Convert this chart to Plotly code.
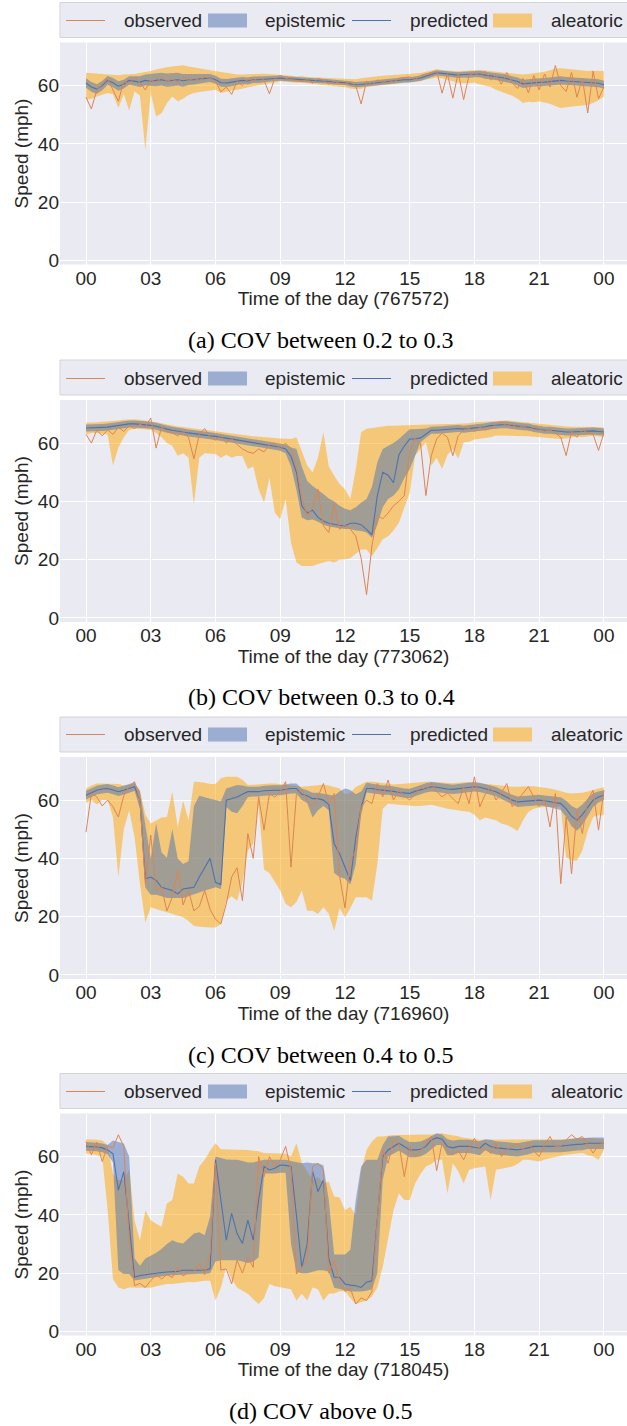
import plotly.graph_objects as go

# ---------------- data (15-minute resolution, hours 0..24) ----------------
hours = [i * 0.25 for i in range(97)]
tick_vals = [0, 3, 6, 9, 12, 15, 18, 21, 24]
tick_text = ["00", "03", "06", "09", "12", "15", "18", "21", "00"]
y_ticks = [0, 20, 40, 60]

sensor_ids = ["767572", "773062", "716960", "718045"]
captions = ["(a) COV between 0.2 to 0.3", "(b) COV between 0.3 to 0.4",
            "(c) COV between 0.4 to 0.5", "(d) COV above 0.5"]

# ---- panel (a) 767572
a_pred = [60.9, 59.5, 58.8, 60.0, 61.8, 61.0, 59.8, 60.5, 61.8, 61.5, 61.2, 61.8,
          61.5, 61.8, 62.0, 61.6, 61.8, 62.0, 61.7, 62.0, 62.0, 62.3, 62.5, 62.6,
          62.0, 61.0, 60.9, 61.2, 61.5, 61.8, 61.6, 62.0, 62.0, 62.2, 62.4, 62.5,
          62.6, 62.4, 62.3, 62.0, 62.0, 61.8, 61.7, 61.6, 61.5, 61.4, 61.2, 61.1,
          61.0, 60.6, 60.3, 60.4, 60.6, 60.8, 61.0, 61.2, 61.5, 61.7, 61.9, 62.0,
          62.0, 62.3, 62.6, 63.2, 63.8, 64.4, 64.2, 64.0, 63.8, 63.6, 63.8, 63.8,
          64.0, 64.0, 63.6, 63.4, 63.2, 62.8, 62.4, 62.0, 61.4, 60.6, 60.8, 61.1,
          61.1, 61.2, 61.4, 61.6, 61.8, 61.6, 61.5, 61.4, 61.3, 61.1, 61.0, 60.8,
          60.3]
a_epi_hi = [62.5, 61.2, 60.5, 61.6, 63.3, 62.6, 61.5, 62.0, 63.2, 63.2, 63.2, 63.8,
            64.0, 64.3, 64.4, 64.2, 64.4, 64.4, 64.0, 64.0, 63.8, 63.8, 63.9, 64.0,
            63.4, 62.4, 62.3, 62.6, 62.8, 63.0, 62.8, 63.1, 63.1, 63.2, 63.4, 63.4,
            63.5, 63.2, 63.1, 62.8, 62.8, 62.6, 62.5, 62.4, 62.3, 62.2, 62.0, 61.9,
            61.8, 61.5, 61.2, 61.3, 61.5, 61.7, 61.9, 62.1, 62.4, 62.6, 62.8, 62.9,
            62.9, 63.2, 63.5, 64.1, 64.8, 65.3, 65.1, 64.9, 64.8, 64.6, 64.8, 64.9,
            65.1, 65.1, 64.8, 64.6, 64.5, 64.1, 63.7, 63.3, 62.8, 62.0, 62.2, 62.5,
            62.5, 62.6, 62.8, 63.0, 63.2, 63.0, 62.9, 62.8, 62.7, 62.5, 62.4, 62.2,
            61.7]
a_epi_lo = [59.3, 57.9, 57.2, 58.4, 60.3, 59.4, 58.2, 59.0, 60.4, 60.0, 59.5, 60.0,
            59.8, 59.8, 60.0, 59.6, 59.8, 60.0, 59.6, 60.2, 60.4, 60.8, 61.0, 61.2,
            60.6, 59.6, 59.5, 59.8, 60.2, 60.6, 60.4, 60.9, 60.9, 61.2, 61.4, 61.6,
            61.7, 61.6, 61.5, 61.2, 61.2, 61.0, 60.9, 60.8, 60.7, 60.6, 60.4, 60.3,
            60.2, 59.7, 59.4, 59.5, 59.7, 59.9, 60.1, 60.3, 60.6, 60.8, 61.0, 61.1,
            61.1, 61.4, 61.7, 62.3, 62.8, 63.5, 63.3, 63.1, 62.8, 62.6, 62.8, 62.7,
            62.9, 62.9, 62.4, 62.2, 61.9, 61.5, 61.1, 60.7, 60.0, 59.2, 59.4, 59.7,
            59.7, 59.8, 60.0, 60.2, 60.4, 60.2, 60.1, 60.0, 59.9, 59.7, 59.6, 59.4,
            58.9]
a_ale_hi = [64.4, 64.3, 64.1, 63.9, 63.8, 63.8, 63.6, 63.8, 63.8, 64.0, 64.3, 64.6,
            65.0, 65.5, 66.0, 66.3, 66.6, 66.8, 67.0, 66.6, 66.2, 66.0, 65.6, 65.3,
            65.0, 64.6, 64.3, 64.0, 63.8, 63.8, 63.9, 64.0, 64.0, 64.1, 64.0, 63.9,
            63.8, 63.6, 63.4, 63.1, 63.2, 63.0, 62.9, 62.8, 62.7, 62.6, 62.5, 62.4,
            62.3, 62.2, 62.2, 62.5, 62.8, 63.0, 63.2, 63.4, 63.5, 63.6, 63.7, 63.8,
            63.9, 64.1, 64.3, 64.8, 65.2, 65.6, 65.4, 65.1, 65.0, 64.9, 65.0, 65.2,
            65.3, 65.4, 65.2, 65.0, 64.8, 64.5, 64.3, 64.1, 63.8, 63.8, 64.0, 64.2,
            64.4, 64.8, 65.3, 65.8, 66.0, 65.8, 65.5, 65.3, 65.1, 65.0, 65.1, 65.0,
            65.0]
a_ale_lo = [55.2, 55.5, 56.3, 56.8, 57.5, 57.0, 52.3, 57.0, 51.5, 58.0, 56.5, 37.9,
            57.5, 49.4, 50.5, 54.0, 56.3, 54.6, 55.5, 56.8, 57.5, 57.8, 58.0, 58.2,
            58.6, 57.5, 58.0, 58.3, 58.6, 59.0, 59.5, 59.8, 60.3, 60.5, 60.8, 61.0,
            61.5, 61.3, 61.2, 61.0, 61.0, 60.8, 60.6, 60.4, 60.3, 60.0, 59.8, 59.6,
            59.4, 59.0, 58.8, 58.9, 59.5, 59.8, 60.0, 60.2, 60.4, 60.5, 60.7, 61.0,
            61.0, 61.2, 61.5, 62.0, 62.3, 62.8, 62.5, 62.0, 61.3, 61.0, 60.8, 60.8,
            61.0, 60.5, 60.0, 59.5, 58.6, 58.0, 57.2, 56.5, 55.5, 54.0, 54.5, 54.3,
            54.6, 54.2, 53.8, 53.0, 52.3, 52.6, 52.9, 53.0, 53.2, 53.4, 54.0, 55.0,
            56.3]
a_obs = [56.0, 52.0, 58.5, 60.5, 62.5, 58.5, 54.6, 61.5, 60.5, 62.8, 61.0, 58.5,
         62.0, 61.0, 62.8, 61.5, 62.3, 61.0, 63.0, 61.8, 62.5, 61.8, 63.0, 62.5,
         61.5, 57.9, 59.5, 57.0, 61.5, 60.0, 62.5, 61.5, 63.0, 61.8, 57.2, 62.5,
         63.5, 62.5, 62.0, 61.8, 61.5, 62.0, 60.8, 62.5, 61.8, 60.5, 61.5, 60.8,
         60.5, 61.2, 60.0, 53.7, 61.5, 60.2, 62.0, 61.0, 62.0, 61.0, 62.5, 62.8,
         63.0, 62.0, 63.5, 64.0, 64.5, 65.0, 57.4, 64.0, 55.7, 64.5, 55.2, 63.5,
         64.5, 63.0, 65.0, 62.0, 63.5, 60.5, 64.5, 61.0, 59.0, 62.5, 57.5, 63.5,
         58.5, 64.0, 59.5, 66.9, 60.0, 58.0, 64.5, 56.0, 62.5, 50.6, 65.0, 55.5,
         59.5]

# ---- panel (b) 773062
b_pred = [65.2, 65.2, 65.3, 65.4, 65.5, 65.8, 66.1, 66.4, 66.6, 66.6, 66.5, 66.3,
          66.1, 65.8, 65.2, 64.8, 64.4, 64.0, 63.8, 63.5, 63.2, 63.0, 62.7, 62.5,
          62.3, 62.0, 61.5, 61.2, 60.9, 60.6, 60.3, 60.0, 59.8, 59.6, 59.2, 58.9,
          58.6, 58.0, 55.5, 50.0, 38.5, 36.0, 37.0, 34.5, 33.3, 32.5, 32.1, 31.8,
          31.6, 32.5, 32.5, 32.0, 30.4, 28.5, 42.0, 50.0, 49.0, 46.4, 56.0, 59.0,
          61.4, 61.4, 61.8, 63.0, 64.4, 64.4, 64.6, 64.8, 65.0, 65.0, 64.8, 65.0,
          65.2, 65.2, 65.6, 66.0, 66.2, 66.3, 66.3, 66.0, 65.8, 65.6, 65.5, 65.0,
          64.8, 64.4, 64.4, 64.2, 63.9, 63.8, 63.8, 63.9, 64.0, 64.2, 64.2, 64.0,
          63.8]
b_epi_hi = [66.4, 66.4, 66.5, 66.6, 66.7, 67.0, 67.3, 67.6, 67.8, 67.8, 67.7, 67.5,
            67.3, 67.0, 66.4, 66.0, 65.6, 65.2, 65.0, 64.7, 64.4, 64.2, 63.9, 63.7,
            63.5, 63.2, 62.7, 62.4, 62.1, 61.8, 61.5, 61.2, 61.0, 60.8, 60.4, 60.1,
            59.8, 59.5, 58.5, 58.0, 52.0, 47.0, 45.3, 44.0, 42.5, 41.0, 40.0, 38.5,
            37.5, 37.0, 38.0, 39.5, 40.8, 45.0, 53.4, 58.0, 59.1, 60.0, 61.4, 63.0,
            64.8, 64.8, 64.8, 65.0, 65.6, 65.6, 65.8, 66.0, 66.2, 66.2, 66.0, 66.2,
            66.4, 66.4, 66.8, 67.2, 67.4, 67.5, 67.5, 67.2, 67.0, 66.8, 66.7, 66.2,
            66.0, 65.6, 65.6, 65.4, 65.1, 65.0, 65.0, 65.1, 65.2, 65.4, 65.4, 65.2,
            65.0]
b_epi_lo = [64.0, 64.0, 64.1, 64.2, 64.3, 64.6, 64.9, 65.2, 65.4, 65.4, 65.3, 65.1,
            64.9, 64.6, 64.0, 63.6, 63.2, 62.8, 62.6, 62.3, 62.0, 61.8, 61.5, 61.3,
            61.1, 60.8, 60.3, 60.0, 59.7, 59.4, 59.1, 58.8, 58.6, 58.4, 58.0, 57.7,
            57.4, 56.5, 52.0, 44.0, 34.5, 33.5, 33.8, 33.0, 32.0, 31.4, 31.0, 30.8,
            30.5, 30.5, 30.0, 29.8, 29.3, 27.5, 32.0, 38.0, 40.8, 42.0, 44.2, 48.0,
            51.0, 56.0, 60.3, 61.8, 63.2, 63.2, 63.4, 63.6, 63.8, 63.8, 63.6, 63.8,
            64.0, 64.0, 64.4, 64.8, 65.0, 65.1, 65.1, 64.8, 64.6, 64.4, 64.3, 63.8,
            63.6, 63.2, 63.2, 63.0, 62.7, 62.6, 62.6, 62.7, 62.8, 63.0, 63.0, 62.8,
            62.6]
b_ale_hi = [67.0, 67.2, 67.2, 67.3, 67.4, 67.6, 67.8, 68.0, 68.2, 68.2, 68.0, 67.8,
            67.6, 67.2, 66.8, 66.4, 66.0, 65.7, 65.5, 65.2, 65.0, 64.8, 64.6, 64.4,
            64.2, 64.0, 63.6, 63.3, 63.0, 62.8, 62.6, 62.4, 62.2, 62.0, 61.8, 61.7,
            61.6, 61.5, 61.4, 62.0, 57.0, 52.3, 50.0, 55.0, 63.7, 52.0, 48.8, 46.0,
            44.2, 40.8, 51.0, 63.7, 64.9, 65.2, 65.5, 65.8, 66.0, 66.0, 66.0, 66.2,
            66.2, 66.2, 66.3, 66.4, 66.5, 66.5, 66.5, 66.6, 66.6, 66.6, 66.7, 66.8,
            67.2, 67.3, 67.5, 67.7, 67.8, 67.8, 67.8, 67.6, 67.4, 67.2, 67.1, 66.8,
            66.6, 66.3, 66.2, 66.0, 65.8, 65.7, 65.6, 65.6, 65.6, 65.7, 65.7, 65.5,
            65.4]
b_ale_lo = [63.0, 63.5, 63.5, 63.3, 63.0, 52.3, 58.5, 62.0, 64.5, 64.9, 64.9, 64.8,
            64.5, 63.5, 62.0, 60.0, 59.1, 55.7, 56.5, 55.0, 39.0, 55.0, 56.5, 56.3,
            56.3, 55.0, 56.0, 55.0, 55.7, 55.5, 51.1, 52.0, 44.2, 39.6, 48.0, 36.2,
            33.9, 40.8, 25.8, 19.0, 17.8, 17.8, 17.8, 18.5, 19.0, 19.5, 19.0, 20.0,
            20.1, 20.5, 22.0, 23.5, 23.5, 21.2, 24.0, 27.0, 28.0, 30.0, 32.7, 38.0,
            43.0, 55.7, 58.0, 60.3, 52.3, 55.0, 51.1, 56.0, 58.0, 54.6, 60.3, 60.5,
            61.2, 61.4, 61.8, 62.0, 62.6, 62.6, 62.5, 62.5, 62.6, 62.6, 62.4, 62.2,
            62.0, 61.8, 61.6, 61.5, 61.4, 61.6, 62.0, 62.3, 62.0, 62.3, 62.5, 62.3,
            62.0]
b_obs = [63.0, 60.0, 64.5, 62.5, 64.5, 63.0, 65.5, 64.0, 66.0, 65.0, 66.5, 65.5,
         68.6, 58.3, 65.5, 64.0, 63.5, 62.5, 64.0, 62.0, 54.6, 63.0, 65.0, 62.0,
         61.0, 62.5, 60.0, 61.5, 59.5, 58.0, 57.0, 56.5, 58.0, 57.0, 59.5, 60.0,
         58.0, 60.0, 58.0, 52.0, 41.0, 35.0, 38.0, 44.2, 31.6, 29.3, 39.0, 30.4,
         32.0, 30.5, 28.1, 20.5, 8.0, 24.7, 35.2, 34.0, 36.0, 38.5, 40.0, 42.0,
         56.9, 61.5, 60.0, 42.0, 55.7, 61.4, 63.5, 62.0, 55.7, 62.6, 64.5, 65.0,
         64.0, 65.5, 64.5, 65.0, 66.5, 67.2, 66.0, 66.5, 65.0, 66.0, 64.5, 65.5,
         65.0, 64.0, 64.5, 63.5, 62.0, 55.7, 64.0, 62.0, 64.5, 63.5, 63.0, 57.5,
         63.5]

# ---- panel (c) 716960
c_pred = [61.7, 62.5, 63.4, 63.8, 64.0, 63.5, 62.9, 63.4, 64.0, 64.6, 60.0, 33.0,
          33.6, 32.4, 30.1, 29.5, 29.0, 27.8, 29.5, 29.8, 30.1, 33.6, 36.8, 40.0,
          31.8, 31.0, 60.0, 60.5, 61.1, 62.0, 62.9, 62.9, 62.9, 63.2, 63.4, 63.4,
          63.4, 63.7, 64.0, 64.0, 62.0, 61.5, 60.5, 60.5, 60.0, 58.5, 45.0, 41.6,
          37.0, 32.4, 47.0, 57.5, 64.0, 64.0, 63.6, 63.4, 63.4, 63.0, 62.6, 62.4,
          62.3, 63.0, 63.6, 64.2, 64.6, 64.4, 64.0, 63.8, 63.7, 63.9, 64.2, 64.4,
          64.6, 64.4, 64.0, 63.4, 62.9, 62.0, 61.0, 60.0, 59.4, 59.6, 59.8, 60.0,
          60.0, 59.8, 59.5, 59.2, 58.8, 57.0, 54.5, 53.1, 55.0, 57.5, 60.0, 61.1,
          61.7]
c_epi_hi = [63.2, 64.0, 64.9, 65.3, 65.5, 65.0, 64.4, 64.9, 65.5, 66.1, 63.0, 52.0,
            40.0, 52.0, 42.0, 40.2, 50.0, 40.0, 38.1, 39.0, 58.0, 61.5, 61.1, 60.5,
            60.0, 59.5, 64.0, 64.6, 65.2, 65.0, 64.6, 64.6, 64.6, 64.9, 65.1, 65.1,
            65.1, 65.4, 65.7, 65.7, 64.0, 63.4, 62.5, 62.5, 62.2, 62.0, 61.5, 63.0,
            64.0, 63.5, 62.0, 63.0, 66.0, 65.6, 65.2, 65.0, 65.0, 64.6, 64.2, 64.0,
            63.9, 64.6, 65.2, 65.8, 66.2, 66.0, 65.6, 65.4, 65.3, 65.5, 65.8, 66.0,
            66.2, 66.0, 65.6, 65.0, 64.5, 63.6, 62.6, 61.8, 61.2, 61.4, 61.6, 61.8,
            61.8, 61.6, 61.4, 61.2, 61.0, 59.8, 58.0, 57.0, 58.5, 60.5, 62.4, 63.0,
            63.4]
c_epi_lo = [60.2, 61.0, 61.9, 62.3, 62.5, 62.0, 61.4, 61.9, 62.5, 63.1, 57.0, 30.0,
            27.5, 27.5, 27.0, 26.4, 26.4, 26.4, 26.4, 27.0, 27.7, 28.5, 29.0, 29.5,
            30.1, 29.5, 57.7, 56.0, 55.5, 58.0, 61.1, 61.2, 61.2, 61.5, 61.7, 61.7,
            61.7, 62.0, 62.3, 62.3, 60.0, 59.0, 54.0, 56.5, 58.0, 56.5, 35.0, 33.6,
            33.0, 31.0, 38.0, 55.0, 62.6, 62.4, 62.0, 61.8, 61.8, 61.4, 61.0, 60.8,
            60.7, 61.4, 62.0, 62.6, 63.0, 62.8, 62.4, 62.2, 62.1, 62.3, 62.6, 62.8,
            63.0, 62.8, 62.4, 61.8, 61.3, 60.4, 59.4, 58.4, 57.6, 57.8, 58.0, 58.2,
            58.2, 58.0, 57.6, 57.2, 56.6, 54.2, 51.0, 49.5, 51.5, 54.5, 57.6, 59.2,
            60.0]
c_ale_hi = [64.0, 65.0, 65.7, 65.7, 65.7, 65.7, 65.5, 65.0, 65.2, 65.5, 63.4, 55.0,
            52.0, 53.1, 54.0, 54.2, 62.9, 50.8, 59.9, 53.0, 66.3, 66.2, 66.0, 65.5,
            65.5, 67.5, 68.0, 68.0, 68.0, 67.0, 65.2, 65.3, 65.5, 65.6, 65.7, 65.7,
            65.5, 65.3, 65.0, 64.8, 64.6, 64.8, 65.0, 65.2, 65.3, 65.0, 64.5, 64.0,
            62.0, 62.5, 64.5, 65.5, 66.3, 66.3, 66.0, 65.8, 65.6, 65.4, 65.4, 65.6,
            65.8, 66.0, 66.2, 66.3, 66.3, 66.2, 66.0, 65.8, 65.8, 66.0, 66.2, 66.2,
            66.0, 65.8, 65.5, 65.3, 65.0, 64.8, 64.6, 64.6, 64.6, 64.8, 64.8, 64.8,
            64.6, 64.4, 64.0, 63.6, 63.0, 62.5, 62.3, 62.3, 62.5, 63.0, 63.6, 64.0,
            64.4]
c_ale_lo = [59.0, 60.0, 58.5, 60.0, 60.0, 54.2, 33.6, 50.0, 56.5, 47.4, 31.3, 18.0,
            23.2, 22.5, 22.0, 21.5, 20.9, 20.5, 19.8, 18.5, 16.9, 16.5, 16.3, 16.3,
            16.3, 17.5, 25.5, 27.0, 25.5, 32.0, 42.7, 45.0, 58.0, 36.2, 35.0, 32.0,
            29.0, 24.4, 23.2, 25.0, 29.0, 22.0, 22.0, 20.9, 23.2, 21.0, 15.1, 23.0,
            19.8, 23.0, 26.7, 26.7, 26.7, 25.5, 38.0, 57.0, 58.8, 58.6, 58.4, 58.3,
            58.2, 58.0, 58.0, 58.2, 58.4, 58.0, 57.5, 57.0, 56.8, 56.4, 56.2, 56.0,
            55.0, 53.1, 54.0, 53.5, 53.1, 52.0, 51.5, 50.5, 49.4, 53.0, 56.0, 57.0,
            57.5, 57.6, 57.7, 57.7, 57.7, 40.4, 39.3, 39.3, 42.7, 49.4, 54.2, 54.8,
            54.8]
c_obs = [49.0, 62.3, 61.1, 58.0, 60.0, 57.7, 54.2, 61.5, 64.6, 66.3, 60.0, 31.3,
         48.0, 29.0, 30.0, 22.0, 26.7, 35.9, 24.0, 29.0, 22.0, 23.5, 29.0, 22.5,
         19.1, 17.5, 24.4, 33.6, 36.8, 25.5, 48.5, 40.0, 61.1, 49.7, 62.3, 61.0,
         62.9, 66.3, 37.0, 62.0, 63.4, 60.0, 57.7, 61.1, 65.7, 58.8, 62.3, 34.0,
         23.0, 39.3, 42.7, 57.7, 60.0, 58.8, 65.7, 61.1, 66.9, 60.0, 63.4, 61.5,
         60.0, 62.0, 64.6, 63.5, 65.7, 63.0, 61.1, 62.5, 60.5, 58.8, 64.6, 58.8,
         68.0, 57.7, 62.0, 64.6, 60.0, 62.5, 65.7, 57.7, 60.0, 62.3, 64.6, 61.0,
         57.7, 60.5, 50.8, 62.3, 31.3, 54.2, 34.7, 56.5, 48.5, 60.0, 63.4, 49.7,
         63.4]

# ---- panel (d) 718045
d_pred = [63.5, 63.5, 63.3, 63.0, 62.3, 61.0, 48.5, 54.8, 35.9, 18.6, 19.2, 19.5,
          19.8, 20.0, 20.2, 20.4, 20.4, 20.6, 21.0, 21.0, 21.0, 21.0, 21.0, 21.5,
          59.0, 45.1, 31.3, 40.5, 33.6, 30.2, 38.2, 31.3, 45.1, 56.6, 55.4, 56.0,
          57.1, 57.0, 56.6, 40.0, 22.0, 30.0, 55.0, 48.0, 52.0, 25.0, 18.6, 18.6,
          16.3, 15.9, 15.7, 15.1, 16.9, 17.4, 40.0, 60.0, 62.3, 63.5, 64.6, 63.5,
          62.3, 62.3, 62.5, 63.5, 65.7, 66.5, 66.0, 63.5, 63.0, 63.5, 63.5, 63.5,
          63.2, 62.9, 64.6, 63.5, 63.0, 62.9, 62.7, 62.5, 62.3, 62.6, 63.0, 63.5,
          63.5, 63.5, 63.5, 63.5, 63.6, 63.8, 64.1, 64.2, 64.3, 64.6, 64.6, 64.6,
          64.6]
d_epi_hi = [65.0, 65.0, 64.8, 64.5, 64.0, 65.5, 65.0, 64.5, 60.0, 25.0, 22.5, 25.0,
            26.0, 27.0, 28.3, 30.0, 31.3, 30.5, 30.2, 32.0, 33.6, 34.0, 33.0, 39.4,
            60.0, 59.5, 59.0, 58.9, 58.9, 58.5, 58.0, 58.0, 58.5, 58.9, 58.9, 58.9,
            58.9, 58.9, 58.5, 58.0, 57.7, 58.0, 57.7, 57.7, 57.0, 45.0, 26.4, 26.4,
            26.4, 28.0, 45.1, 56.6, 58.9, 58.9, 58.9, 64.0, 66.9, 67.0, 67.2, 66.0,
            65.0, 65.0, 65.2, 66.0, 67.0, 68.0, 67.6, 66.0, 65.5, 65.8, 65.8, 65.8,
            65.5, 65.3, 66.0, 65.8, 65.3, 65.2, 65.0, 64.8, 64.6, 64.9, 65.2, 65.6,
            65.6, 65.6, 65.6, 65.6, 65.7, 65.9, 66.2, 66.3, 66.4, 66.6, 66.6, 66.6,
            66.6]
d_epi_lo = [62.0, 62.0, 61.8, 61.5, 60.8, 58.0, 21.0, 19.7, 19.7, 17.5, 17.8, 18.2,
            18.5, 18.7, 19.0, 19.2, 19.3, 19.4, 19.7, 19.7, 19.7, 19.8, 19.8, 20.0,
            24.0, 24.4, 24.4, 24.4, 24.4, 24.0, 23.5, 24.0, 25.5, 54.2, 54.2, 54.2,
            54.5, 54.5, 30.0, 20.5, 20.0, 20.0, 20.5, 21.0, 21.0, 20.5, 15.0, 14.5,
            14.0, 13.7, 13.7, 13.7, 14.0, 14.5, 20.0, 52.0, 60.0, 61.0, 62.0, 61.0,
            59.8, 59.8, 60.0, 61.0, 62.5, 64.0, 64.0, 60.5, 60.5, 61.2, 61.2, 61.2,
            60.9, 60.5, 62.2, 61.2, 60.7, 60.6, 60.4, 60.2, 60.0, 60.3, 60.8, 61.4,
            61.4, 61.4, 61.4, 61.4, 61.5, 61.7, 62.0, 62.1, 62.2, 62.6, 62.6, 62.6,
            62.6]
d_ale_hi = [66.0, 66.0, 65.8, 65.5, 64.0, 54.0, 52.0, 52.0, 55.4, 38.0, 31.3, 41.6,
            38.2, 37.0, 35.9, 43.9, 45.1, 54.2, 53.1, 50.8, 50.8, 56.6, 58.9, 62.0,
            64.6, 62.5, 62.5, 62.3, 62.3, 62.3, 62.3, 62.0, 61.8, 61.2, 61.2, 61.2,
            61.2, 61.0, 60.0, 64.6, 58.0, 55.0, 52.0, 53.0, 50.8, 51.5, 46.3, 46.0,
            41.6, 42.7, 40.0, 55.4, 62.3, 65.2, 66.9, 66.9, 67.2, 67.4, 67.4, 67.4,
            67.4, 67.4, 67.4, 67.5, 67.6, 67.8, 68.0, 67.6, 67.4, 67.0, 66.5, 66.2,
            66.0, 65.8, 65.8, 65.8, 65.8, 65.8, 65.8, 65.8, 65.8, 65.8, 65.8, 65.8,
            65.8, 65.9, 66.0, 66.0, 66.0, 66.0, 66.2, 66.3, 66.3, 66.4, 66.3, 66.2,
            66.0]
d_ale_lo = [61.0, 61.0, 60.5, 60.0, 42.0, 18.0, 15.1, 14.5, 15.1, 15.1, 15.0, 15.0,
            15.0, 15.5, 16.0, 16.3, 16.3, 16.5, 16.9, 17.0, 16.9, 17.2, 17.4, 17.4,
            10.6, 15.1, 22.1, 18.0, 15.1, 14.0, 12.9, 11.0, 9.4, 11.5, 16.3, 15.5,
            15.1, 14.8, 14.5, 10.6, 12.9, 10.6, 15.1, 14.5, 10.6, 12.9, 13.0, 13.8,
            13.8, 11.5, 9.4, 10.0, 10.6, 12.0, 15.1, 22.1, 31.3, 41.6, 47.4, 45.1,
            45.1, 50.8, 54.0, 56.6, 57.5, 58.9, 58.9, 47.4, 57.7, 55.0, 50.8, 55.5,
            56.0, 56.3, 56.6, 45.1, 55.5, 55.8, 56.2, 56.6, 57.5, 58.9, 58.9, 58.5,
            58.3, 59.0, 59.5, 60.0, 60.3, 60.6, 60.8, 61.0, 61.2, 60.5, 60.0, 58.9,
            62.3]
d_obs = [65.2, 60.6, 65.0, 58.3, 63.5, 63.0, 67.5, 63.5, 31.3, 15.7, 16.5, 15.1,
         17.4, 19.5, 18.0, 19.5, 18.5, 22.1, 19.0, 20.5, 20.5, 23.3, 19.5, 26.7,
         57.7, 21.0, 21.5, 16.3, 24.4, 20.0, 25.6, 22.0, 60.0, 53.1, 60.0, 56.6,
         58.9, 63.5, 55.4, 19.7, 22.1, 24.4, 56.6, 57.7, 55.5, 20.0, 24.4, 17.0,
         13.7, 14.8, 9.4, 11.5, 10.6, 13.7, 38.2, 62.3, 57.7, 65.8, 64.6, 53.1,
         63.4, 60.0, 62.0, 64.6, 66.9, 55.2, 64.6, 62.0, 61.1, 62.0, 58.9, 63.0,
         66.3, 62.3, 63.0, 61.1, 64.6, 60.0, 62.5, 63.5, 64.6, 62.3, 64.6, 62.0,
         60.0, 64.0, 66.9, 63.4, 63.4, 65.7, 67.5, 66.0, 66.9, 64.0, 61.2, 64.0,
         64.6]

panels = [
    (a_obs, a_pred, a_epi_lo, a_epi_hi, a_ale_lo, a_ale_hi),
    (b_obs, b_pred, b_epi_lo, b_epi_hi, b_ale_lo, b_ale_hi),
    (c_obs, c_pred, c_epi_lo, c_epi_hi, c_ale_lo, c_ale_hi),
    (d_obs, d_pred, d_epi_lo, d_epi_hi, d_ale_lo, d_ale_hi),
]

# ---------------- styling ----------------
W, H = 627, 1426
BG = "#EAEAF2"
TXT = "#262626"
SANS = "Liberation Sans, Arial, sans-serif"
SERIF = "Liberation Serif, Times New Roman, serif"
OBS_C = "#DD8452"
PRED_C = "#4C72B0"
EPI_F = "rgba(76,114,176,0.5)"
ALE_F = "rgba(255,165,0,0.5)"

plot_left = 60
plot_tops = [42.5, 400.0, 757.0, 1113.5]
plot_h = 222.0
x_rng = [-1.205, 25.07]
y_rng = [-1.4, 74.8]


def px_x(x):
    return x / W


def px_y(y):
    return 1 - y / H


fig = go.Figure()
shapes = []
annotations = []

for i, (obs, pred, elo, ehi, alo, ahi) in enumerate(panels):
    sx = "" if i == 0 else str(i + 1)
    xa, ya = "x" + sx, "y" + sx
    common = dict(x=hours, xaxis=xa, yaxis=ya, showlegend=False, hoverinfo="skip")
    fig.add_trace(go.Scatter(y=alo, mode="lines", line=dict(width=0, color=ALE_F), **common))
    fig.add_trace(go.Scatter(y=ahi, mode="lines", line=dict(width=0, color=ALE_F),
                             fill="tonexty", fillcolor=ALE_F, **common))
    fig.add_trace(go.Scatter(y=elo, mode="lines", line=dict(width=0, color=EPI_F), **common))
    fig.add_trace(go.Scatter(y=ehi, mode="lines", line=dict(width=0, color=EPI_F),
                             fill="tonexty", fillcolor=EPI_F, **common))
    fig.add_trace(go.Scatter(y=pred, mode="lines", line=dict(width=1.1, color=PRED_C), **common))
    fig.add_trace(go.Scatter(y=obs, mode="lines", line=dict(width=1.0, color=OBS_C), **common))

    top = plot_tops[i]
    bot = top + plot_h
    dom_y = [px_y(bot), px_y(top)]
    fig.update_layout(**{
        "xaxis" + sx: dict(
            domain=[px_x(plot_left), 1.0], range=x_rng, anchor=ya,
            tickmode="array", tickvals=tick_vals, ticktext=tick_text,
            showgrid=True, gridcolor="white", gridwidth=1, zeroline=False,
            showline=False, ticks="", tickfont=dict(family=SANS, size=19, color=TXT),
            title=dict(text="Time of the day (%s)" % sensor_ids[i],
                       font=dict(family=SANS, size=19, color=TXT), standoff=2),
            automargin=False, fixedrange=True,
        ),
        "yaxis" + sx: dict(
            domain=dom_y, range=y_rng, anchor=xa,
            tickmode="array", tickvals=y_ticks,
            showgrid=True, gridcolor="white", gridwidth=1, zeroline=False,
            showline=False, ticks="", tickfont=dict(family=SANS, size=19, color=TXT),
            title=dict(text="Speed (mph)", font=dict(family=SANS, size=19, color=TXT),
                       standoff=4),
            automargin=False, fixedrange=True,
        ),
    })

    # caption under the panel
    annotations.append(dict(
        text=captions[i], xref="paper", yref="paper", x=px_x(321), y=px_y(bot + 75.5),
        xanchor="center", yanchor="middle", showarrow=False,
        font=dict(family=SERIF, size=24, color="black")))

    # legend box with entries
    lb_top, lb_bot = top - 40, top - 5
    cy = round((lb_top + lb_bot) / 2) + 0.5
    shapes.append(dict(type="rect", xref="paper", yref="paper",
                       x0=px_x(60), x1=px_x(640), y0=px_y(lb_bot), y1=px_y(lb_top),
                       fillcolor=BG, line=dict(color="#D3D3DA", width=1), layer="above"))
    shapes.append(dict(type="line", xref="paper", yref="paper",
                       x0=px_x(66), x1=px_x(105), y0=px_y(cy), y1=px_y(cy),
                       line=dict(color=OBS_C, width=1.2), layer="above"))
    shapes.append(dict(type="rect", xref="paper", yref="paper",
                       x0=px_x(208), x1=px_x(247), y0=px_y(cy + 7), y1=px_y(cy - 7),
                       fillcolor=EPI_F, line=dict(width=0), layer="above"))
    shapes.append(dict(type="line", xref="paper", yref="paper",
                       x0=px_x(352), x1=px_x(391), y0=px_y(cy), y1=px_y(cy),
                       line=dict(color=PRED_C, width=1.2), layer="above"))
    shapes.append(dict(type="rect", xref="paper", yref="paper",
                       x0=px_x(493), x1=px_x(532), y0=px_y(cy + 7), y1=px_y(cy - 7),
                       fillcolor=ALE_F, line=dict(width=0), layer="above"))
    for lx, lab in [(122, "observed"), (263, "epistemic"), (408, "predicted"), (549, "aleatoric")]:
        annotations.append(dict(
            text=lab, xref="paper", yref="paper", x=px_x(lx), y=px_y(cy),
            xanchor="left", yanchor="middle", showarrow=False,
            font=dict(family=SANS, size=19, color=TXT)))

fig.update_layout(
    width=W, height=H, margin=dict(l=0, r=0, t=0, b=0),
    paper_bgcolor="white", plot_bgcolor=BG,
    showlegend=False, shapes=shapes, annotations=annotations,
    font=dict(family=SANS, size=19, color=TXT),
)

fig.write_html("out.html")
